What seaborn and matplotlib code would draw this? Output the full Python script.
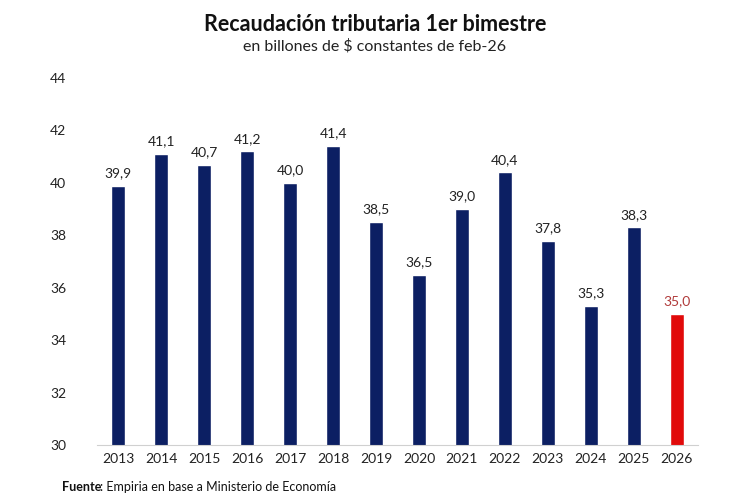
import seaborn as sns
import numpy as np
import pandas as pd
import matplotlib.pyplot as plt

years = ['2013', '2014', '2015', '2016', '2017', '2018', '2019',
         '2020', '2021', '2022', '2023', '2024', '2025', '2026']
values = [39.9, 41.1, 40.7, 41.2, 40.0, 41.4, 38.5,
          36.5, 39.0, 40.4, 37.8, 35.3, 38.3, 35.0]
labels = ['39,9', '41,1', '40,7', '41,2', '40,0', '41,4', '38,5',
          '36,5', '39,0', '40,4', '37,8', '35,3', '38,3', '35,0']

navy = '#0c1f63'
red = '#e10a0a'

if __name__ == '__main__':
    sns.set_style('white')
    plt.rcParams['font.family'] = ['Lato', 'DejaVu Sans']

    df = pd.DataFrame({'year': years, 'value': values})
    colors = [navy] * (len(years) - 1) + [red]

    fig = plt.figure(figsize=(7.5, 4.97), dpi=100)
    ax = fig.add_axes([0.129, 0.1046, 0.802, 0.7384])

    sns.barplot(data=df, x='year', y='value', hue='year', palette=colors,
                legend=False, width=0.32, saturation=1, ax=ax)
    ax.set_ylim(30, 44)
    ax.set_xlim(-0.5, 13.5)
    ax.set_yticks(np.arange(30, 45, 2))
    ax.set_xlabel('')
    ax.set_ylabel('')

    for i, (v, lab) in enumerate(zip(values, labels)):
        ax.text(i, v + 0.25, lab, ha='center', va='bottom', fontsize=10,
                color='#b03a3a' if i == len(values) - 1 else '#222222')

    for s in ['top', 'right', 'left']:
        ax.spines[s].set_visible(False)
    ax.spines['bottom'].set_color('#d0d0d0')
    ax.tick_params(axis='both', length=0, labelsize=10, colors='#222222')
    ax.tick_params(axis='y', pad=22)
    ax.tick_params(axis='x', pad=6)

    fig.text(0.5, 0.95, 'Recaudación tributaria 1er bimestre', ha='center',
             va='center', fontsize=15.5, fontweight='bold', color='#111111')
    fig.text(0.5, 0.907, 'en billones de $ constantes de feb-26', ha='center',
             va='center', fontsize=11.5, color='#222222')
    fig.text(0.083, 0.02, 'Fuente', ha='left', va='center', fontsize=9,
             fontweight='bold', color='#111111')
    fig.text(0.134, 0.02, ': Empiria en base a Ministerio de Economía',
             ha='left', va='center', fontsize=9, color='#111111')

    plt.savefig('out.png', dpi=100)
